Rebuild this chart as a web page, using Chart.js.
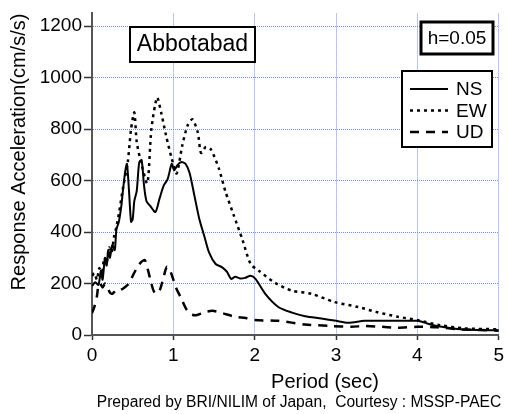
<!DOCTYPE html>
<html>
<head>
<meta charset="utf-8">
<script src="https://cdn.jsdelivr.net/npm/chart.js@4.4.1/dist/chart.umd.min.js"></script>
<style>
  html, body { margin: 0; padding: 0; background: #fff; }
  #wrap { width: 508px; height: 414px; }
</style>
</head>
<body>
<div id="wrap"><canvas id="chart"></canvas></div>
<script>
// period (sec) / response acceleration (cm/s/s)
const nsPeriod = [0, 0.04, 0.08, 0.11, 0.13, 0.16, 0.18, 0.2, 0.22, 0.25, 0.28, 0.3, 0.33, 0.36, 0.38, 0.41, 0.43, 0.455, 0.48, 0.5, 0.52, 0.55, 0.58, 0.61, 0.64, 0.67, 0.72, 0.78, 0.83, 0.88, 0.93, 0.98, 1.01, 1.05, 1.1, 1.15, 1.2, 1.26, 1.32, 1.38, 1.44, 1.52, 1.6, 1.66, 1.71, 1.76, 1.82, 1.88, 1.95, 2.01, 2.13, 2.29, 2.45, 2.62, 2.82, 3.0, 3.15, 3.35, 3.55, 3.76, 4.0, 4.12, 4.24, 4.53, 4.77, 5.0];
const nsAccel = [190, 205, 195, 250, 215, 300, 270, 330, 300, 350, 330, 410, 440, 500, 560, 640, 665, 560, 440, 450, 520, 560, 670, 680, 580, 520, 500, 478, 530, 580, 606, 665, 640, 660, 672, 665, 630, 540, 450, 385, 320, 276, 263, 245, 218, 226, 220, 222, 230, 218, 160, 109, 88, 73, 64, 55, 48, 55, 55, 55, 55, 45, 35, 22, 19, 18];

const ewPeriod = [0, 0.03, 0.06, 0.09, 0.12, 0.15, 0.18, 0.21, 0.24, 0.27, 0.3, 0.33, 0.38, 0.44, 0.48, 0.52, 0.55, 0.6, 0.68, 0.73, 0.8, 0.85, 0.91, 0.98, 1.04, 1.11, 1.175, 1.235, 1.3, 1.34, 1.4, 1.46, 1.56, 1.64, 1.74, 1.85, 1.95, 2.05, 2.25, 2.45, 2.7, 2.98, 3.27, 3.49, 3.76, 4.0, 4.28, 4.57, 5.0];
const ewAccel = [230, 240, 215, 260, 230, 300, 280, 340, 320, 380, 420, 470, 570, 673, 800, 865, 750, 675, 590, 800, 923, 865, 776, 686, 628, 737, 814, 838, 788, 708, 731, 722, 647, 558, 468, 370, 276, 250, 203, 173, 160, 128, 109, 90, 71, 58, 38, 26, 22];

const udPeriod = [0, 0.03, 0.06, 0.08, 0.1, 0.13, 0.16, 0.19, 0.22, 0.25, 0.3, 0.35, 0.4, 0.455, 0.5, 0.56, 0.61, 0.65, 0.69, 0.72, 0.76, 0.8, 0.84, 0.88, 0.92, 0.96, 1.0, 1.03, 1.1, 1.16, 1.22, 1.28, 1.38, 1.48, 1.6, 1.76, 1.89, 2.0, 2.29, 2.62, 2.94, 3.19, 3.35, 3.51, 3.76, 4.0, 4.24, 4.53, 5.0];
const udAccel = [85, 110, 150, 195, 200, 185, 200, 186, 165, 160, 175, 175, 185, 200, 230, 265, 285, 291, 250, 212, 170, 160, 180, 225, 265, 250, 215, 186, 140, 100, 80, 77, 88, 94, 85, 71, 66, 58, 55, 41, 35, 32, 35, 33, 28, 32, 30, 22, 17];

const seriesNames = ['NS', 'EW', 'UD'];
const periodTicks = [0, 1, 2, 3, 4, 5];
const accelTicks = [0, 200, 400, 600, 800, 1000, 1200];

const FONT = "'Liberation Sans', Arial, sans-serif";

function pts(xs, ys) {
  return xs.map((x, i) => ({ x: x, y: ys[i] }));
}

const dashes = [[], [3, 4], [9, 7]];
const widths = [2, 2.5, 2.5];

const decor = {
  id: 'decor',
  afterDraw(chart) {
    const ctx = chart.ctx;
    ctx.save();
    ctx.fillStyle = '#000';
    ctx.textAlign = 'center';
    ctx.textBaseline = 'middle';

    // axis titles
    ctx.font = '20px ' + FONT;
    ctx.fillText('Period (sec)', 325, 382);
    ctx.save();
    ctx.translate(19, 152);
    ctx.rotate(-Math.PI / 2);
    ctx.fillText('Response Acceleration(cm/s/s)', 0, 0);
    ctx.restore();

    // footer
    ctx.font = '15.6px ' + FONT;
    ctx.fillText('Prepared by BRI/NILIM of Japan,  Courtesy : MSSP-PAEC', 299, 403);

    // station box
    ctx.fillStyle = '#fff';
    ctx.fillRect(130, 27, 125, 35);
    ctx.strokeStyle = '#000';
    ctx.lineWidth = 2;
    ctx.strokeRect(130, 27, 125, 35);
    ctx.fillStyle = '#000';
    ctx.font = '23px ' + FONT;
    ctx.fillText('Abbotabad', 192.5, 45);

    // damping box
    ctx.fillStyle = '#fff';
    ctx.fillRect(421, 22, 72, 32);
    ctx.lineWidth = 3;
    ctx.strokeRect(421, 22, 72, 32);
    ctx.fillStyle = '#000';
    ctx.font = '19px ' + FONT;
    ctx.fillText('h=0.05', 457, 38.5);

    // legend
    ctx.fillStyle = '#fff';
    ctx.fillRect(402, 71, 90, 76);
    ctx.lineWidth = 2;
    ctx.strokeRect(402, 71, 90, 76);
    ctx.textAlign = 'left';
    chart.data.datasets.forEach((ds, i) => {
      const y = 89 + i * 21.5;
      ctx.beginPath();
      ctx.setLineDash(ds.borderDash);
      ctx.lineWidth = ds.borderWidth;
      ctx.moveTo(410, y);
      ctx.lineTo(448, y);
      ctx.stroke();
      ctx.setLineDash([]);
      ctx.fillStyle = '#000';
      ctx.fillText(ds.label, 456, y + 1);
    });
    ctx.restore();
  }
};

const gridOpts = (tl) => ({
  color: '#6f8fff',
  lineWidth: 1,
  tickLength: tl,
  tickColor: '#333',
  tickWidth: 1.5,
  tickBorderDash: []
});

new Chart(document.getElementById('chart'), {
  type: 'line',
  data: {
    datasets: [
      { label: seriesNames[0], data: pts(nsPeriod, nsAccel) },
      { label: seriesNames[1], data: pts(ewPeriod, ewAccel) },
      { label: seriesNames[2], data: pts(udPeriod, udAccel) }
    ].map((d, i) => Object.assign(d, {
      borderColor: '#000',
      borderWidth: widths[i],
      borderDash: dashes[i],
      pointRadius: 0,
      tension: 0.25,
      fill: false
    }))
  },
  options: {
    responsive: true,
    maintainAspectRatio: false,
    animation: false,
    layout: { padding: { left: 0, right: 6, top: 10, bottom: 0 } },
    plugins: {
      legend: { display: false },
      tooltip: { enabled: false }
    },
    scales: {
      x: {
        type: 'linear',
        min: 0,
        max: 5,
        afterBuildTicks: (axis) => { axis.ticks = periodTicks.map(v => ({ value: v })); },
        afterFit: (axis) => { axis.height = 79; },
        border: { color: '#555', width: 2, dash: [1, 1] },
        grid: gridOpts(5),
        ticks: {
          color: '#000',
          padding: 4,
          maxRotation: 0,
          callback: (v) => String(v),
          font: { family: FONT, size: 19 }
        }
      },
      y: {
        min: 0,
        max: 1250,
        afterBuildTicks: (axis) => { axis.ticks = accelTicks.map(v => ({ value: v })); },
        afterFit: (axis) => { axis.width = 92; },
        border: { color: '#555', width: 2, dash: [1, 1] },
        grid: gridOpts(8),
        ticks: {
          color: '#000',
          padding: 2,
          callback: (v) => String(v),
          font: { family: FONT, size: 19 }
        }
      }
    }
  },
  plugins: [decor]
});
</script>
</body>
</html>
